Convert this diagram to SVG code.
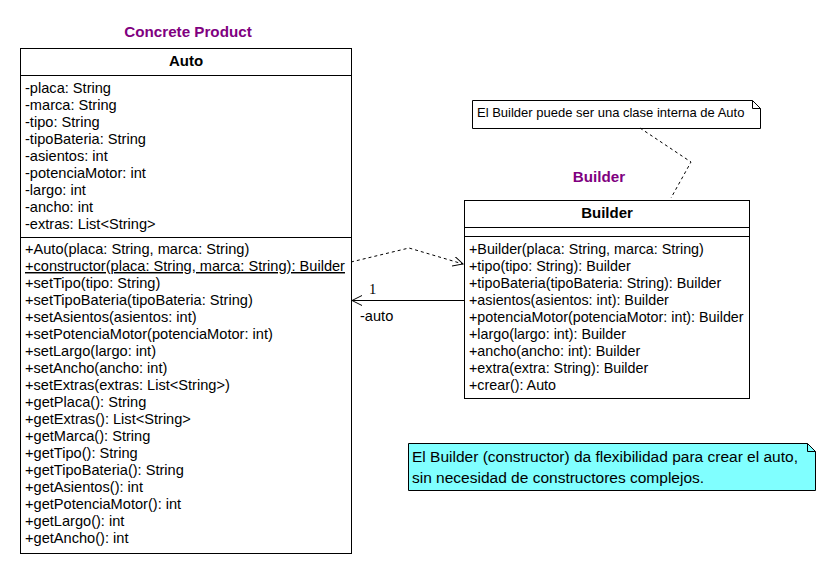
<svg xmlns="http://www.w3.org/2000/svg" width="834" height="574" viewBox="0 0 834 574">
<style>
text{font-family:"Liberation Sans",Arial,sans-serif;font-size:14.6px;fill:#000}
.t{font-weight:bold;fill:#800080;text-anchor:middle;font-size:15.2px}
.h{font-weight:bold;text-anchor:middle;font-size:15px}
.box{fill:#fff;stroke:#000;stroke-width:1}
.dash{fill:none;stroke:#000;stroke-dasharray:3,3}
.n{font-size:13px}
.big{font-size:15.5px}
.b{font-size:14.3px}
</style>
<defs>
<marker id="open" markerWidth="12" markerHeight="12" refX="10" refY="5" orient="auto" markerUnits="userSpaceOnUse">
<path d="M0,0 L10,5 L0,10" fill="none" stroke="#000"/>
</marker>
</defs>
<rect width="834" height="574" fill="#fff"/>
<g id="auto">
<text class="t" x="188" y="37">Concrete Product</text>
<rect class="box" x="20.5" y="48.5" width="331" height="505"/>
<line x1="20.5" y1="75.5" x2="351.5" y2="75.5" stroke="#000"/>
<line x1="20.5" y1="237.5" x2="351.5" y2="237.5" stroke="#000"/>
<text class="h" x="186" y="66">Auto</text>
<text x="25" y="93">-placa: String</text>
<text x="25" y="110">-marca: String</text>
<text x="25" y="127">-tipo: String</text>
<text x="25" y="144">-tipoBateria: String</text>
<text x="25" y="161">-asientos: int</text>
<text x="25" y="178">-potenciaMotor: int</text>
<text x="25" y="195">-largo: int</text>
<text x="25" y="212">-ancho: int</text>
<text x="25" y="229">-extras: List&lt;String&gt;</text>
<text x="25" y="254">+Auto(placa: String, marca: String)</text>
<text x="25" y="271" text-decoration="underline">+constructor(placa: String, marca: String): Builder</text>
<text x="25" y="288">+setTipo(tipo: String)</text>
<text x="25" y="305">+setTipoBateria(tipoBateria: String)</text>
<text x="25" y="322">+setAsientos(asientos: int)</text>
<text x="25" y="339">+setPotenciaMotor(potenciaMotor: int)</text>
<text x="25" y="356">+setLargo(largo: int)</text>
<text x="25" y="373">+setAncho(ancho: int)</text>
<text x="25" y="390">+setExtras(extras: List&lt;String&gt;)</text>
<text x="25" y="407">+getPlaca(): String</text>
<text x="25" y="424">+getExtras(): List&lt;String&gt;</text>
<text x="25" y="441">+getMarca(): String</text>
<text x="25" y="458">+getTipo(): String</text>
<text x="25" y="475">+getTipoBateria(): String</text>
<text x="25" y="492">+getAsientos(): int</text>
<text x="25" y="509">+getPotenciaMotor(): int</text>
<text x="25" y="526">+getLargo(): int</text>
<text x="25" y="543">+getAncho(): int</text>
</g>
<g id="builder">
<text class="t" x="599" y="182">Builder</text>
<rect class="box" x="464.5" y="200.5" width="285" height="198"/>
<line x1="464.5" y1="227.5" x2="749.5" y2="227.5" stroke="#000"/>
<line x1="464.5" y1="236.5" x2="749.5" y2="236.5" stroke="#000"/>
<text class="h" x="607" y="218">Builder</text>
<text class="b" x="469" y="254">+Builder(placa: String, marca: String)</text>
<text class="b" x="469" y="271">+tipo(tipo: String): Builder</text>
<text class="b" x="469" y="288">+tipoBateria(tipoBateria: String): Builder</text>
<text class="b" x="469" y="305">+asientos(asientos: int): Builder</text>
<text class="b" x="469" y="322">+potenciaMotor(potenciaMotor: int): Builder</text>
<text class="b" x="469" y="339">+largo(largo: int): Builder</text>
<text class="b" x="469" y="356">+ancho(ancho: int): Builder</text>
<text class="b" x="469" y="373">+extra(extra: String): Builder</text>
<text class="b" x="469" y="390">+crear(): Auto</text>
</g>
<g id="note1">
<path class="box" d="M472.5,100.5 H752.5 L760.5,108.5 V128.5 H472.5 Z"/>
<path d="M752.5,100.5 V108.5 H760.5" fill="none" stroke="#000"/>
<text class="n" x="477" y="117">El Builder puede ser una clase interna de Auto</text>
</g>
<g id="note2">
<path d="M408.5,443.5 H807.5 L815.5,451.5 V490.5 H408.5 Z" fill="#80ffff" stroke="#000"/>
<path d="M807.5,443.5 V451.5 H815.5" fill="none" stroke="#000"/>
<text class="big" x="412" y="462">El Builder (constructor) da flexibilidad para crear el auto,</text>
<text class="big" x="412" y="483">sin necesidad de constructores complejos.</text>
</g>
<g id="connectors">
<path class="dash" d="M640,128 L691,162 L671,198"/>
<path class="dash" d="M351,262 L409,248 L463,264" marker-end="url(#open)"/>
<line x1="464" y1="300.5" x2="352" y2="300.5" stroke="#000" marker-end="url(#open)"/>
<text x="369" y="294" style="font-family:'Liberation Serif','Times New Roman',serif">1</text>
<text x="360" y="321">-auto</text>
</g>
</svg>
